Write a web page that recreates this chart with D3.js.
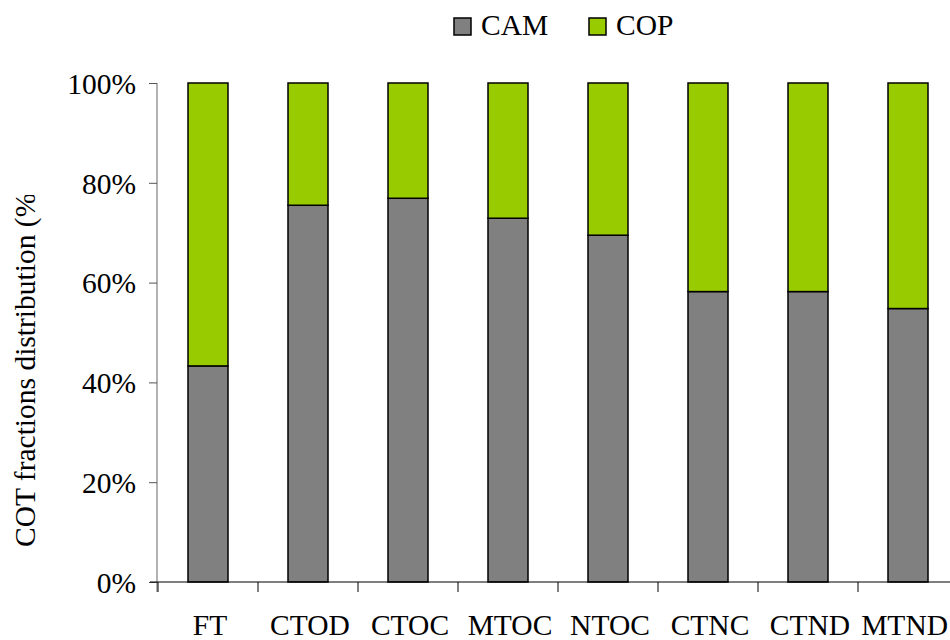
<!DOCTYPE html>
<html>
<head>
<meta charset="utf-8">
<script src="https://cdn.jsdelivr.net/npm/d3@7"></script>
<style>
  body { margin: 0; background: white; }
  svg text { font-family: "Liberation Serif", Tinos, "Times New Roman", "DejaVu Serif", serif !important; }
</style>
</head>
<body>
<script>
// Data
const categories = ['FT', 'CTOD', 'CTOC', 'MTOC', 'NTOC', 'CTNC', 'CTND', 'MTND']
const camValues = [43.3, 75.5, 76.9, 72.9, 69.5, 58.2, 58.2, 54.8]
const copValues = camValues.map(v => 100 - v)
const seriesNames = ['CAM', 'COP']
const yTicks = [0, 20, 40, 60, 80, 100]

CANVAS_WIDTH = 950
CANVAS_HEIGHT = 640
FONT_SIZE = '29.5px'

const colors = { CAM: '#808080', COP: '#99cc00' }

const svg = d3.select('body')
  .append('svg')
  .attr('width', CANVAS_WIDTH)
  .attr('height', CANVAS_HEIGHT)

const x = d3.scaleBand()
  .domain(categories)
  .range([158, 958])
  .paddingInner(0.6)
  .paddingOuter(0.3)

const y = d3.scaleLinear()
  .domain([0, 100])
  .range([582, 83])

// Stack the two series on top of each other
const rows = categories.map((c, i) => ({ cat: c, CAM: camValues[i], COP: copValues[i] }))
const stack = d3.stack().keys(seriesNames)(rows)

svg.append('g')
  .selectAll('g')
  .data(stack)
  .join('g')
  .attr('fill', d => colors[d.key])
  .selectAll('rect')
  .data(d => d)
  .join('rect')
  .attr('x', d => x(d.data.cat))
  .attr('y', d => y(d[1]))
  .attr('width', x.bandwidth())
  .attr('height', d => y(d[0]) - y(d[1]))
  .attr('stroke', 'black')
  .attr('stroke-width', 1.5)

// Y axis (gray line, ticks on the left)
const yAxis = svg.append('g')
  .attr('transform', 'translate(157,0)')
  .call(d3.axisLeft(y).tickValues(yTicks).tickSize(8).tickFormat(d => d + '%'))
yAxis.attr('font-family', null)
yAxis.select('.domain').attr('stroke', '#808080').attr('stroke-width', 1.2)
  .attr('d', 'M0,83V592')
yAxis.selectAll('.tick line').attr('stroke', '#555')
yAxis.selectAll('.tick text')
  .attr('x', -21)
  .attr('dy', '0.35em')
  .attr('fill', 'black')
  .style('font-size', FONT_SIZE)

// X axis: ticks sit between the categories
const xAxis = svg.append('g')
  .attr('transform', 'translate(0,582)')
xAxis.append('line')
  .attr('x1', 150).attr('x2', CANVAS_WIDTH)
  .attr('stroke', 'black').attr('stroke-width', 1.2)
xAxis.selectAll('.sep')
  .data(categories)
  .join('line')
  .attr('class', 'sep')
  .attr('x1', d => x(d) - x.step() * 0.3)
  .attr('x2', d => x(d) - x.step() * 0.3)
  .attr('y2', 10)
  .attr('stroke', 'black')
xAxis.selectAll('.lbl')
  .data(categories)
  .join('text')
  .attr('class', 'lbl')
  .attr('y', 53)
  .attr('text-anchor', 'middle')
  .style('font-size', FONT_SIZE)
  .text(d => d)
  .attr('x', function (d) {
    // keep the last label inside the canvas
    const half = this.getComputedTextLength() / 2
    return Math.min(x(d) + x.bandwidth() / 2 + 2, CANVAS_WIDTH - 2 - half)
  })

// Y axis title, clipped at the top like the original
svg.append('clipPath')
  .attr('id', 'ylab-clip')
  .append('rect')
  .attr('x', 0).attr('y', 195).attr('width', 60).attr('height', 420)

svg.append('g')
  .attr('clip-path', 'url(#ylab-clip)')
  .append('text')
  .attr('transform', 'translate(35,547) rotate(-90)')
  .style('font-size', FONT_SIZE)
  .text('COT fractions distribution (%)')

// Legend
const legend = svg.append('g')
  .selectAll('g')
  .data(seriesNames)
  .join('g')
  .attr('transform', (d, i) => `translate(${454 + i * 135},18)`)
legend.append('rect')
  .attr('width', 17).attr('height', 17)
  .attr('fill', d => colors[d])
  .attr('stroke', 'black').attr('stroke-width', 1.5)
legend.append('text')
  .attr('x', 27).attr('y', 17)
  .style('font-size', FONT_SIZE)
  .text(d => d)
</script>
</body>
</html>
